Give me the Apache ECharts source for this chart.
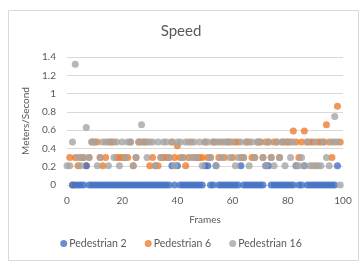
<!DOCTYPE html>
<html>
<head>
<meta charset="utf-8">
<script src="https://cdn.jsdelivr.net/npm/echarts@6/dist/echarts.min.js"></script>
<style>
html,body{margin:0;padding:0;background:#fff;}
#chartmain{width:362px;height:264px;}
</style>
</head>
<body>
<div id="chartmain"></div>
<script>
// speed per frame, index = frame number, null = no reading
var ped2 = [null, null, 0, 0, 0, 0, 0, 0.21, 0, 0, 0, 0, 0, 0, 0, 0, 0, 0, 0, 0,
    0, 0, 0, 0, 0, 0, 0, 0, 0, 0, 0, 0, 0, 0, 0, 0, 0, 0, 0.21, 0,
    0.21, 0, 0, 0, 0, 0, 0, 0, 0, 0, 0.21, 0.21, 0, 0, 0.21, 0, 0, 0, 0, 0,
    0, 0, 0, 0.21, 0, 0, 0, 0, 0, 0, 0, 0, 0.21, 0.21, 0, 0, 0, 0, 0, 0,
    0, 0, 0, 0.21, 0, 0, 0.21, 0, 0, 0, 0, 0, 0, 0, 0, 0, 0, 0, 0.21];
var ped6 = [null, 0.30, 0, 0.30, 0.21, 0.30, 0.30, 0.21, 0.30, 0.47, 0.47, 0.47, 0.30, 0.21, 0.30, 0.47, 0.47, 0.47, 0.30, 0.30,
    0.30, 0.30, 0.30, 0.47, 0.21, 0.30, 0.47, 0.47, 0.47, 0.47, 0.21, 0.30, 0.21, 0.21, 0.30, 0.30, 0.30, 0.30, 0.47, 0.30,
    0.43, 0.30, 0.30, 0.21, 0.30, 0.47, 0.30, 0.30, 0.30, 0.30, 0.47, 0.30, 0.30, 0.47, 0.47, 0.30, 0.47, 0.30, 0.47, 0.47,
    0.30, 0.47, 0.47, 0.30, 0.30, 0.47, 0.47, 0.30, 0.30, 0.47, 0.47, 0.30, 0.47, 0.47, 0.30, 0.47, 0.47, 0.30, 0.47, 0.47,
    0.47, 0.47, 0.59, 0.47, 0.30, 0.47, 0.59, 0.47, 0.47, 0.47, 0.21, 0.47, 0.47, 0.47, 0.66, 0.47, 0.30, 0.47, 0.86, 0.47];
var ped16 = [0.21, 0.21, 0.47, 1.32, 0.30, 0.21, 0.30, 0.63, 0.30, 0.47, 0.47, 0.21, 0.30, 0.47, 0.47, 0.21, 0.47, 0.30, 0.47, 0.21,
    0.47, 0.30, 0.47, 0.47, 0.21, 0.30, 0.47, 0.66, 0.47, 0.30, 0.47, 0.47, 0.21, 0.47, 0.30, 0.47, 0.47, 0.30, 0.47, 0.21,
    0.47, 0.47, 0.30, 0.47, 0.47, 0.30, 0.47, 0.30, 0.47, 0.21, 0.47, 0.47, 0.30, 0.47, 0.21, 0.47, 0.30, 0.47, 0.47, 0.30,
    0.47, 0.21, 0.30, 0.47, 0.30, 0.47, 0.21, 0.47, 0.30, 0.47, 0.47, 0.30, 0.21, 0.47, 0.30, 0.21, 0.47, 0.30, 0.47, 0.21,
    0.47, 0.30, 0.47, 0.21, 0.21, 0.30, 0.21, 0.47, 0.21, 0.21, 0.47, 0.21, 0.21, 0.47, 0.30, 0.21, 0.47, 0.75, 0.47, 0];
var names = ['Pedestrian 2', 'Pedestrian 6', 'Pedestrian 16'];
var colors = ['#4472C4', '#ED7D31', '#A5A5A5'];

function toPoints(arr) {
    var out = [];
    for (var i = 0; i < arr.length; i++) {
        if (arr[i] !== null) out.push([i, arr[i]]);
    }
    return out;
}

var txt = '#595959';
var font = 'Lato';
var myChart = echarts.init(document.getElementById('chartmain'), null, {renderer: 'canvas'});

var option = {
    color: colors,
    textStyle: {fontFamily: font},
    title: {
        text: 'Speed',
        left: 'center',
        top: 19,
        textStyle: {fontSize: 15, fontWeight: 'normal', color: txt, fontFamily: font}
    },
    legend: {
        bottom: 10,
        left: 'center',
        itemWidth: 7,
        itemHeight: 7,
        itemGap: 18,
        icon: 'circle',
        textStyle: {fontSize: 10.5, color: txt, padding: [0, 0, 0, -3]},
        data: names
    },
    grid: {left: 67, right: 19, top: 57, bottom: 79},
    xAxis: {
        type: 'value',
        min: 0, max: 100, interval: 20,
        name: 'Frames',
        nameLocation: 'middle',
        nameGap: 30,
        nameTextStyle: {fontSize: 10, color: txt},
        axisLine: {show: false},
        axisTick: {show: false},
        splitLine: {show: false},
        axisLabel: {fontSize: 10, color: txt, margin: 11}
    },
    yAxis: {
        type: 'value',
        min: 0, max: 1.4, interval: 0.2,
        name: 'Meters/Second',
        nameLocation: 'middle',
        nameGap: 26,
        nameTextStyle: {fontSize: 10, color: txt},
        axisLine: {show: false},
        axisTick: {show: false},
        splitLine: {lineStyle: {color: '#D9D9D9', width: 1}},
        axisLabel: {
            fontSize: 10, color: txt, margin: 11,
            formatter: function (v) { return String(Math.round(v * 10) / 10); }
        }
    },
    graphic: [{
        type: 'rect',
        shape: {x: 8.5, y: 10.5, width: 350, height: 250},
        style: {fill: 'none', stroke: '#D9D9D9', lineWidth: 1},
        silent: true,
        z: -1
    }],
    series: [
        {name: names[0], type: 'scatter', symbolSize: 7, data: toPoints(ped2), z: 3},
        {name: names[1], type: 'scatter', symbolSize: 7, data: toPoints(ped6), z: 2},
        {name: names[2], type: 'scatter', symbolSize: 7, data: toPoints(ped16), z: 4}
    ]
};
myChart.setOption(option);
</script>
</body>
</html>
